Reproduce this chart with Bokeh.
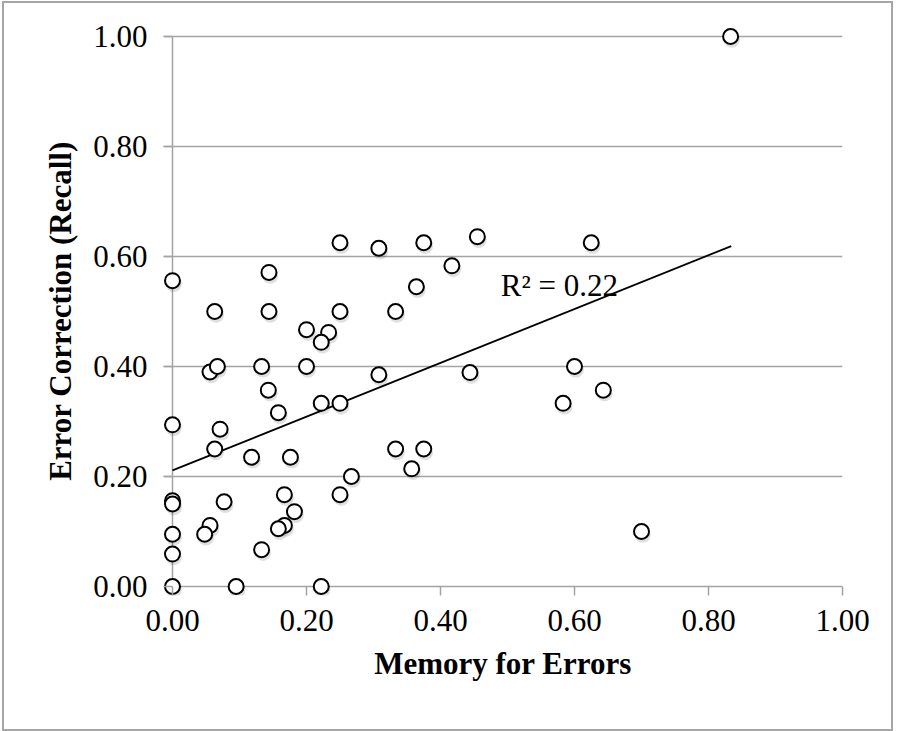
import numpy as np
from bokeh.plotting import figure
from bokeh.models import Range1d, FixedTicker, Label, ColumnDataSource
from bokeh.transform import dodge
from bokeh.embed import file_html
from bokeh.resources import INLINE

# ---- data ----
memory_for_errors = [
    0.000, 0.144, 0.063, 0.144, 0.250, 0.200, 0.233, 0.222, 0.056, 0.067,
    0.133, 0.200, 0.143, 0.158, 0.222, 0.250, 0.000, 0.071, 0.063, 0.118,
    0.176, 0.267, 0.000, 0.000, 0.077, 0.167, 0.250, 0.182, 0.056, 0.048,
    0.167, 0.158, 0.000, 0.000, 0.133, 0.000, 0.095, 0.222, 0.417, 0.364,
    0.333, 0.308, 0.444, 0.333, 0.375, 0.357, 0.600, 0.643, 0.583, 0.700,
    0.250, 0.308, 0.375, 0.455, 0.625, 0.833,
]
error_correction = [
    0.556, 0.571, 0.500, 0.500, 0.500, 0.467, 0.462, 0.444, 0.390, 0.400,
    0.400, 0.400, 0.357, 0.316, 0.333, 0.333, 0.294, 0.286, 0.250, 0.235,
    0.235, 0.200, 0.156, 0.150, 0.154, 0.167, 0.167, 0.136, 0.111, 0.095,
    0.111, 0.105, 0.095, 0.059, 0.067, 0.000, 0.000, 0.000, 0.583, 0.545,
    0.500, 0.385, 0.389, 0.250, 0.250, 0.214, 0.400, 0.357, 0.333, 0.100,
    0.625, 0.615, 0.625, 0.636, 0.625, 1.000,
]
trend_x = [0.0, 0.834]
trend_y = [0.211, 0.619]
r2_text = "R² = 0.22"
x_ticks = [0.0, 0.2, 0.4, 0.6, 0.8, 1.0]
y_ticks = [0.0, 0.2, 0.4, 0.6, 0.8, 1.0]
tick_labels = ["0.00", "0.20", "0.40", "0.60", "0.80", "1.00"]
x_title = "Memory for Errors"
y_title = "Error Correction (Recall)"

FONT = "Liberation Serif"
GRAY = "#a3a3a3"
TICK = 9  # px, tick length

# padding so markers on the 0 / 1 lines are not clipped; ticks live in the padding
PAD_X = TICK / 670
PAD_YB = TICK / 550
PAD_YT = 10 / 550

p = figure(
    width=891, height=730,
    x_range=Range1d(x_ticks[0] - PAD_X, x_ticks[-1]),
    y_range=Range1d(y_ticks[0] - PAD_YB, y_ticks[-1] + PAD_YT),
    output_backend="svg", toolbar_location=None,
    min_border_left=159, min_border_right=53,
    min_border_top=23, min_border_bottom=138,
)
p.styles = {"border": "2px solid #a6a6a6", "margin-left": "2px", "margin-top": "1px"}
p.outline_line_color = None
p.background_fill_color = "white"
p.border_fill_color = "white"

p.xgrid.grid_line_color = None
p.ygrid.grid_line_color = GRAY
p.ygrid.grid_line_width = 1.5
p.ygrid.ticker = FixedTicker(ticks=y_ticks)

for ax, ticks in ((p.xaxis[0], x_ticks), (p.yaxis[0], y_ticks)):
    ax.ticker = FixedTicker(ticks=ticks)
    ax.major_label_overrides = {t: l for t, l in zip(ticks, tick_labels)}
    ax.axis_line_color = None
    ax.major_tick_line_color = GRAY
    ax.major_tick_line_width = 1.5
    ax.major_tick_in = TICK
    ax.major_tick_out = 0
    ax.minor_tick_line_color = None
    ax.major_label_text_font = FONT
    ax.major_label_text_font_size = "31px"
    ax.major_label_text_color = "black"
    ax.axis_label_text_font = FONT
    ax.axis_label_text_font_size = "31px"
    ax.axis_label_text_font_style = "bold"
    ax.axis_label_text_color = "black"

p.xaxis.axis_label = x_title
p.yaxis.axis_label = y_title
p.xaxis.major_label_standoff = 14
p.yaxis.major_label_standoff = 16
p.xaxis.axis_label_standoff = 12
p.yaxis.axis_label_standoff = 12

# vertical axis line at x = 0
p.line([x_ticks[0], x_ticks[0]], [y_ticks[0], y_ticks[-1]], line_color=GRAY, line_width=1.5)

src = ColumnDataSource(dict(x=memory_for_errors, y=error_correction))

# soft drop shadow
p.scatter(x=dodge("x", 0.002, range=p.x_range), y=dodge("y", -0.006, range=p.y_range),
          source=src, size=16, marker="circle", fill_color="black", fill_alpha=0.12,
          line_color=None)

p.line(trend_x, trend_y, line_color="black", line_width=1.8)

p.scatter(x="x", y="y", source=src, size=15, marker="circle",
          fill_color="white", line_color="black", line_width=2)

p.add_layout(Label(x=0.49, y=0.547, text=r2_text, text_font=FONT,
                   text_font_size="31px", text_color="black",
                   text_baseline="alphabetic", text_align="left"))

open("out.html", "w").write(file_html(p, INLINE))
